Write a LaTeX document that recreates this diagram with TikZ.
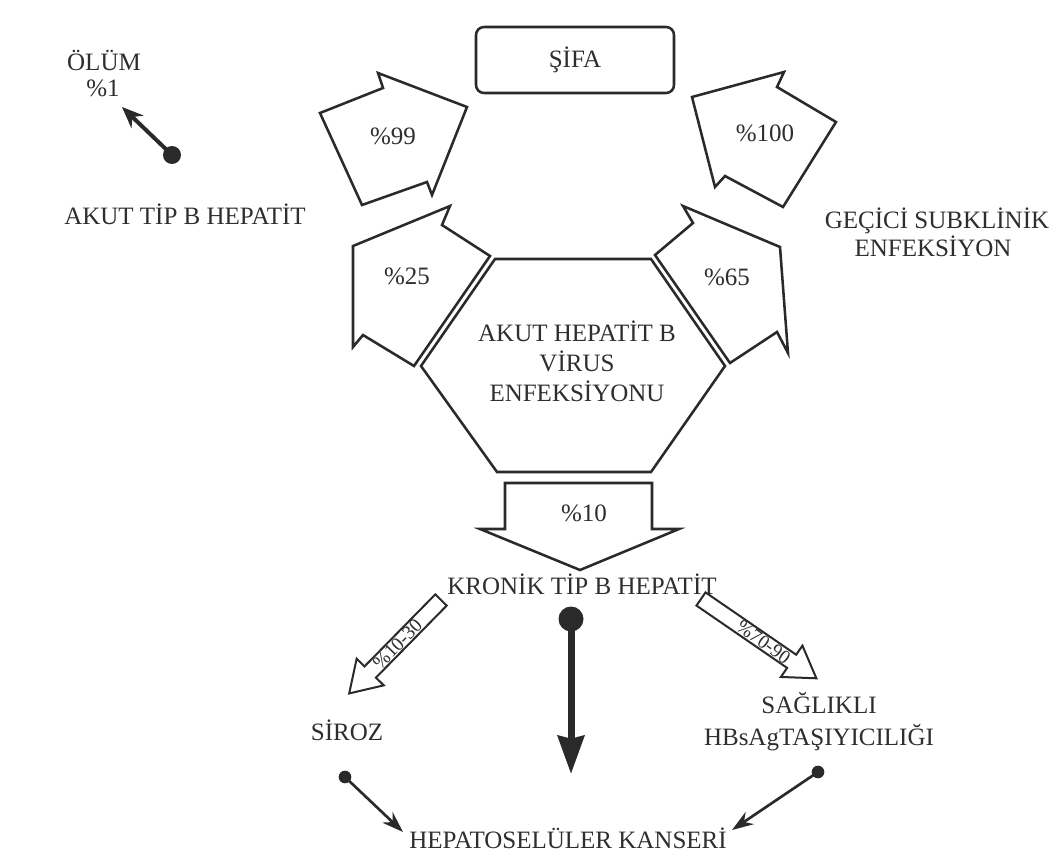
\documentclass[tikz,border=0pt]{standalone}
\usepackage{fontspec}
\setmainfont{Liberation Serif}
\usetikzlibrary{arrows.meta}
\definecolor{ink}{HTML}{2A2A2A}
\definecolor{txt}{HTML}{2E2E2E}
\begin{document}
\begin{tikzpicture}[x=0.75pt,y=-0.75pt,
  blk/.style={draw=ink,line width=1.9pt,fill=white,line join=miter},
  sblk/.style={draw=ink,line width=1.5pt,fill=white,line join=miter},
  lbl/.style={text=txt,font=\fontsize{18.75}{22}\selectfont,inner sep=0pt,anchor=base},
  sml/.style={text=txt,font=\fontsize{14.5}{17}\selectfont,inner sep=0pt},
  dotn/.style={circle,fill=ink,inner sep=0pt,minimum size=#1},
  sifabox/.style={draw=ink,line width=1.9pt,rounded corners=6pt,minimum width=148.5pt,minimum height=49.5pt,text=txt,font=\fontsize{18.75}{22}\selectfont},
  thin/.style={draw=ink,line width=2pt,-{Stealth[length=16pt,width=11pt]}},
  mid/.style={draw=ink,line width=3pt,-{Stealth[length=16pt,width=13pt]}},
  thick/.style={draw=ink,line width=5.25pt,-{Stealth[length=28.5pt,width=19.5pt,inset=2pt]}}
]
\useasboundingbox (0,0) rectangle (1054,856);
\fill[white] (0,0) rectangle (1054,856);

% SIFA box
\node[sifabox] (sifa) at (575,60) {ŞİFA};

% block arrows towards SIFA
\draw[blk] (320,113) -- (383,88) -- (378,73) -- (467,107) -- (432,195) -- (427,182) -- (362,205) -- cycle;
\node[lbl] (p99) at (393,145) {\%99};
\draw[blk] (836,122) -- (777,87) -- (784,72) -- (692,97) -- (715,187) -- (725,176) -- (783,207) -- cycle;
\node[lbl] (p100) at (765,142) {\%100};

% block arrows from hexagon
\draw[blk] (490,256) -- (442,225) -- (450,206) -- (353,246) -- (353,347) -- (363,335) -- (414,366) -- cycle;
\node[lbl] (p25) at (407,284) {\%25};
\draw[blk] (655,255) -- (693,223) -- (683,206) -- (780,247) -- (788,353) -- (777,332) -- (730,363) -- cycle;
\node[lbl] (p65) at (727,285) {\%65};

% hexagon
\draw[blk] (495,259) -- (651,259) -- (725,366) -- (651,472) -- (497,472) -- (421,366) -- cycle;
\node[lbl] (hx1) at (577,341) {AKUT HEPATİT B};
\node[lbl] (hx2) at (577,371) {VİRUS};
\node[lbl] (hx3) at (577,401) {ENFEKSİYONU};

% %10 arrow
\draw[blk] (505,483) -- (652,483) -- (652,529) -- (679,529) -- (580,570) -- (480,529) -- (505,529) -- cycle;
\node[lbl] (p10) at (584,521) {\%10};

% labels
\node[lbl] (olum) at (104,71) {ÖLÜM};
\node[lbl] (olump) at (103,97) {\%1};
\node[lbl] (akut) at (185,224) {AKUT TİP B HEPATİT};
\node[lbl] (gec1) at (937,228) {GEÇİCİ SUBKLİNİK};
\node[lbl] (gec2) at (933,256) {ENFEKSİYON};
\node[lbl] (kron) at (582,594) {KRONİK TİP B HEPATİT};
\node[lbl] (siroz) at (347,740) {SİROZ};
\node[lbl] (sag1) at (819,713) {SAĞLIKLI};
\node[lbl] (sag2) at (819,745) {HBsAgTAŞIYICILIĞI};
\node[lbl] (hcc) at (568,848) {HEPATOSELÜLER KANSERİ};

% small block arrows
\begin{scope}[shift={(441,600)},rotate=225.5]
  \draw[sblk] (0,-8) -- (101,-8) -- (101,-19) -- (131,0) -- (101,19) -- (101,8) -- (0,8) -- cycle;
  \node[sml,rotate=45.5] (p1030) at (62,0) {\%10-30};
\end{scope}
\begin{scope}[shift={(701,599)},rotate=-34.5]
  \draw[sblk] (0,-8) -- (110,-8) -- (110,-19) -- (140,0) -- (110,19) -- (110,8) -- (0,8) -- cycle;
  \node[sml,rotate=-36] (p7090) at (76,0) {\%70-90};
\end{scope}

% dotted arrows
\node[dotn=13.5pt] (d0) at (172,155) {};
\coordinate (t0) at (122,107);
\draw[mid] (d0.center) -- (t0);

\node[dotn=18.75pt] (d1) at (571,619) {};
\coordinate (t1) at (571,774);
\draw[thick] (d1.center) -- (t1);

\node[dotn=9.5pt] (d2) at (345,777) {};
\coordinate (t2) at (403,832);
\draw[thin] (d2.center) -- (t2);

\node[dotn=9.5pt] (d3) at (818,772) {};
\coordinate (t3) at (732,830);
\draw[thin] (d3.center) -- (t3);
\end{tikzpicture}
\end{document}
